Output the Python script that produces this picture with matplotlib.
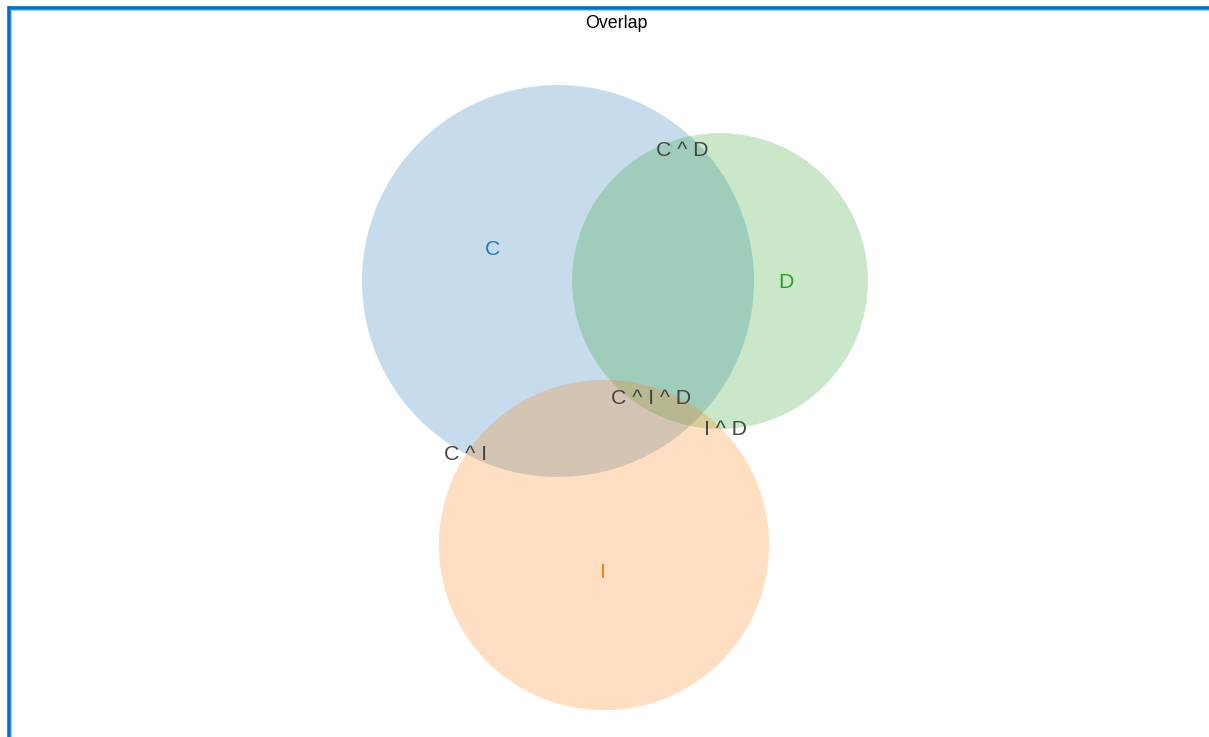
import numpy as np
import matplotlib
matplotlib.use("Agg")
import matplotlib.pyplot as plt
from matplotlib.patches import Circle

plt.rcParams['font.family'] = ['Liberation Sans', 'DejaVu Sans']

# ---- data ----
set_names = ["C", "D", "I"]
set_sizes = [100, 57, 71]                       # relative set sizes (area)
set_colors = ["#1f77b4", "#2ca02c", "#ff7f0e"]
intersection_labels = ["C ^ D", "C ^ I ^ D", "I ^ D", "C ^ I"]
title = "Overlap"

# ---- layout (pixel-like coordinates) ----
W, H = 1209, 737
centers = {"C": (558, 281), "D": (720, 281), "I": (604, 545)}
scale = 19.6
set_label_pos = {"C": (493, 249), "D": (786, 282), "I": (603, 573)}
inter_label_pos = {"C ^ D": (682, 150), "C ^ I ^ D": (651, 398),
                   "I ^ D": (726, 429), "C ^ I": (466, 454)}

fig = plt.figure(figsize=(W / 100, H / 100), dpi=100)
ax = fig.add_axes([0, 0, 1, 1])
ax.set_xlim(0, W)
ax.set_ylim(H, 0)
ax.set_aspect('equal')
ax.axis('off')

for name, size, col in zip(set_names, set_sizes, set_colors):
    r = scale * np.sqrt(size)
    ax.add_patch(Circle(centers[name], r, facecolor=col, alpha=0.25,
                        edgecolor='none'))
    x, y = set_label_pos[name]
    ax.text(x, y, name, color=col, fontsize=15.3, ha='center', va='center')

for lab in intersection_labels:
    x, y = inter_label_pos[lab]
    ax.text(x, y, lab, color='#444444', fontsize=15.3, ha='center', va='center')

ax.text(616, 23, title, color='black', fontsize=12.8, ha='center', va='center')

# frame border (top and left)
ax.plot([8.5, W], [7.5, 7.5], color='#0070C0', lw=2.6, solid_capstyle='butt')
ax.plot([8.5, 8.5], [6, H], color='#0070C0', lw=2.6, solid_capstyle='butt')
ax.plot([10.5, W], [9.8, 9.8], color='#9fd0f0', lw=0.8)
ax.plot([10.6, 10.6], [9.8, H], color='#9fd0f0', lw=0.8)

fig.savefig("out.png", dpi=100)
